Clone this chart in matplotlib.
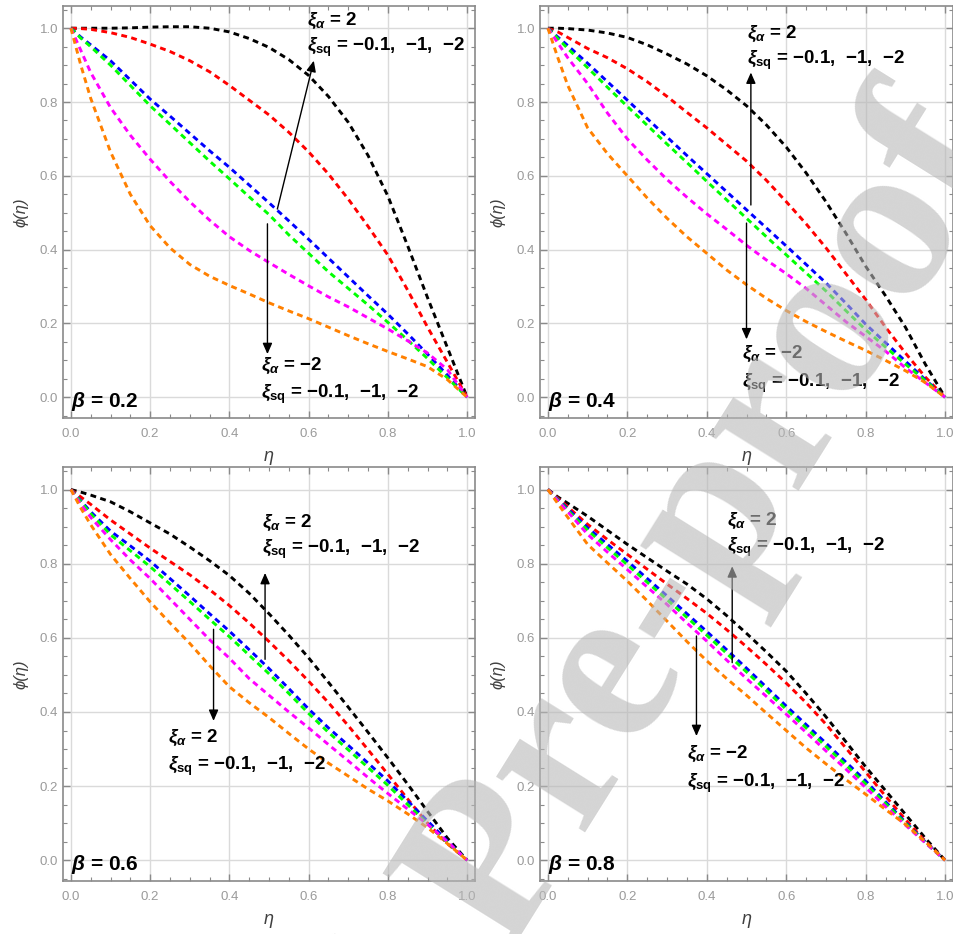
import matplotlib.pyplot as plt
from matplotlib.ticker import MultipleLocator, FormatStrFormatter

plt.rcParams['font.family'] = ['Liberation Sans', 'DejaVu Sans']
plt.rcParams['mathtext.fontset'] = 'custom'
plt.rcParams['mathtext.it'] = 'Liberation Sans:italic:bold'
plt.rcParams['mathtext.rm'] = 'Liberation Sans:bold'
plt.rcParams['mathtext.bf'] = 'Liberation Sans:bold'

# eta grid shared by all profiles
eta = [0, 0.025, 0.05, 0.1, 0.15, 0.2, 0.25, 0.3, 0.35, 0.4, 0.45, 0.5,
       0.55, 0.6, 0.65, 0.7, 0.75, 0.8, 0.85, 0.9, 0.95, 1.0]

# beta = 0.2
b2_black = [1.0, 1.0, 1.0, 1.0, 1.001, 1.003, 1.004, 1.004, 1.0, 0.99, 0.972, 0.948,
            0.915, 0.872, 0.815, 0.745, 0.655, 0.545, 0.41, 0.27, 0.135, 0.0]
b2_red = [1.0, 0.999, 0.997, 0.988, 0.975, 0.957, 0.937, 0.912, 0.882, 0.845, 0.805, 0.765,
          0.718, 0.665, 0.605, 0.537, 0.463, 0.385, 0.29, 0.19, 0.095, 0.0]
b2_blue = [1.0, 0.976, 0.955, 0.912, 0.86, 0.808, 0.762, 0.715, 0.668, 0.623, 0.575, 0.527,
           0.478, 0.428, 0.377, 0.326, 0.275, 0.225, 0.172, 0.117, 0.06, 0.0]
b2_green = [1.0, 0.973, 0.95, 0.9, 0.845, 0.79, 0.74, 0.69, 0.64, 0.592, 0.543, 0.495,
            0.44, 0.39, 0.34, 0.295, 0.25, 0.203, 0.155, 0.105, 0.053, 0.0]
b2_magenta = [1.0, 0.94, 0.88, 0.785, 0.71, 0.645, 0.585, 0.53, 0.48, 0.435, 0.398, 0.365,
              0.333, 0.302, 0.272, 0.245, 0.215, 0.185, 0.153, 0.12, 0.075, 0.0]
b2_orange = [1.0, 0.9, 0.81, 0.665, 0.55, 0.465, 0.405, 0.36, 0.328, 0.303, 0.28, 0.256,
             0.234, 0.213, 0.19, 0.167, 0.145, 0.124, 0.104, 0.083, 0.048, 0.0]

# beta = 0.4
b4_black = [1.0, 1.0, 0.999, 0.995, 0.987, 0.975, 0.955, 0.93, 0.903, 0.871, 0.833, 0.79,
            0.738, 0.678, 0.608, 0.53, 0.445, 0.355, 0.275, 0.19, 0.09, 0.0]
b4_red = [1.0, 0.99, 0.975, 0.945, 0.92, 0.89, 0.855, 0.815, 0.772, 0.73, 0.685, 0.64,
          0.588, 0.53, 0.47, 0.405, 0.335, 0.265, 0.19, 0.12, 0.055, 0.0]
b4_blue = [1.0, 0.976, 0.953, 0.905, 0.855, 0.805, 0.755, 0.705, 0.655, 0.606, 0.557, 0.508,
           0.459, 0.41, 0.36, 0.31, 0.255, 0.198, 0.148, 0.098, 0.048, 0.0]
b4_green = [1.0, 0.972, 0.945, 0.893, 0.84, 0.788, 0.737, 0.686, 0.636, 0.585, 0.535, 0.485,
            0.435, 0.386, 0.337, 0.288, 0.235, 0.183, 0.136, 0.09, 0.045, 0.0]
b4_magenta = [1.0, 0.96, 0.92, 0.85, 0.77, 0.7, 0.643, 0.59, 0.542, 0.497, 0.455, 0.412,
              0.372, 0.335, 0.295, 0.25, 0.205, 0.165, 0.125, 0.08, 0.04, 0.0]
b4_orange = [1.0, 0.92, 0.845, 0.73, 0.66, 0.6, 0.54, 0.485, 0.435, 0.39, 0.345, 0.305,
             0.268, 0.235, 0.205, 0.178, 0.152, 0.127, 0.1, 0.072, 0.04, 0.0]

# beta = 0.6
b6_black = [1.0, 0.993, 0.985, 0.967, 0.94, 0.91, 0.88, 0.845, 0.808, 0.768, 0.72, 0.665,
            0.607, 0.546, 0.48, 0.413, 0.345, 0.276, 0.205, 0.132, 0.06, 0.0]
b6_red = [1.0, 0.98, 0.96, 0.918, 0.88, 0.842, 0.806, 0.77, 0.73, 0.687, 0.64, 0.59,
          0.538, 0.483, 0.425, 0.363, 0.298, 0.232, 0.165, 0.1, 0.045, 0.0]
b6_blue = [1.0, 0.97, 0.94, 0.888, 0.848, 0.807, 0.76, 0.713, 0.665, 0.618, 0.568, 0.517,
           0.463, 0.408, 0.357, 0.31, 0.262, 0.214, 0.16, 0.106, 0.052, 0.0]
b6_green = [1.0, 0.967, 0.935, 0.878, 0.835, 0.792, 0.745, 0.698, 0.65, 0.603, 0.553, 0.503,
            0.45, 0.396, 0.345, 0.298, 0.25, 0.202, 0.15, 0.098, 0.048, 0.0]
b6_magenta = [1.0, 0.96, 0.925, 0.865, 0.81, 0.76, 0.705, 0.65, 0.595, 0.545, 0.49, 0.445,
              0.4, 0.357, 0.312, 0.268, 0.223, 0.18, 0.138, 0.097, 0.05, 0.0]
b6_orange = [1.0, 0.95, 0.905, 0.825, 0.76, 0.697, 0.64, 0.585, 0.525, 0.468, 0.425, 0.385,
             0.342, 0.3, 0.262, 0.227, 0.192, 0.16, 0.125, 0.088, 0.045, 0.0]

# beta = 0.8
b8_black = [1.0, 0.98, 0.963, 0.928, 0.89, 0.852, 0.816, 0.78, 0.745, 0.705, 0.66, 0.612,
            0.562, 0.51, 0.45, 0.387, 0.32, 0.252, 0.188, 0.124, 0.06, 0.0]
b8_red = [1.0, 0.977, 0.953, 0.906, 0.865, 0.825, 0.785, 0.745, 0.706, 0.666, 0.622, 0.576,
          0.528, 0.478, 0.425, 0.367, 0.303, 0.238, 0.173, 0.11, 0.052, 0.0]
b8_blue = [1.0, 0.974, 0.948, 0.897, 0.852, 0.807, 0.76, 0.713, 0.665, 0.617, 0.568, 0.518,
           0.467, 0.416, 0.366, 0.316, 0.265, 0.214, 0.158, 0.103, 0.05, 0.0]
b8_green = [1.0, 0.972, 0.944, 0.89, 0.843, 0.797, 0.75, 0.703, 0.655, 0.607, 0.558, 0.508,
            0.458, 0.407, 0.357, 0.307, 0.257, 0.206, 0.153, 0.1, 0.048, 0.0]
b8_magenta = [1.0, 0.97, 0.94, 0.879, 0.831, 0.784, 0.737, 0.69, 0.64, 0.591, 0.54, 0.49,
              0.442, 0.394, 0.345, 0.295, 0.246, 0.196, 0.145, 0.095, 0.047, 0.0]
b8_orange = [1.0, 0.962, 0.925, 0.852, 0.802, 0.753, 0.7, 0.645, 0.59, 0.538, 0.49, 0.445,
             0.397, 0.35, 0.303, 0.26, 0.218, 0.178, 0.137, 0.097, 0.05, 0.0]

colors = ['black', 'red', 'blue', '#00ff00', '#ff00ff', '#ff8000']
betas = ['0.2', '0.4', '0.6', '0.8']
curves = [
    [b2_black, b2_red, b2_blue, b2_green, b2_magenta, b2_orange],
    [b4_black, b4_red, b4_blue, b4_green, b4_magenta, b4_orange],
    [b6_black, b6_red, b6_blue, b6_green, b6_magenta, b6_orange],
    [b8_black, b8_red, b8_blue, b8_green, b8_magenta, b8_orange],
]

sq_text = r'$\xi_{\mathrm{sq}}$ = −0.1,  −1,  −2'
# (upper text pos, lower text pos, up arrow tail/head, down arrow tail/head, lower alpha label)
notes = [
    ((0.597, 1.021), (0.479, 0.086), ((0.521, 0.51), (0.613, 0.912)), ((0.496, 0.47), (0.496, 0.117)), '−2'),
    ((0.502, 0.984), (0.489, 0.117), ((0.511, 0.521), (0.511, 0.88)), ((0.50, 0.472), (0.50, 0.157)), '−2'),
    ((0.483, 0.910), (0.244, 0.331), ((0.490, 0.542), (0.490, 0.775)), ((0.36, 0.623), (0.36, 0.376)), '2'),
    ((0.451, 0.915), (0.350, 0.286), ((0.464, 0.533), (0.464, 0.793)), ((0.374, 0.605), (0.374, 0.335)), '−2'),
]

fig = plt.figure(figsize=(9.54, 9.34), dpi=100)
boxes = [[0.066, 0.5525, 0.432, 0.441], [0.566, 0.5525, 0.433, 0.441],
         [0.066, 0.0567, 0.432, 0.443], [0.566, 0.0567, 0.433, 0.443]]

frame = '#8a8a8a'
for k in range(4):
    ax = fig.add_axes(boxes[k])
    for c, y in zip(colors, curves[k]):
        ax.plot(eta, y, color=c, lw=2.1, ls=(0, (2.0, 1.5)))
    ax.set_xlim(-0.02, 1.02)
    ax.set_ylim(-0.056, 1.06)
    ax.xaxis.set_major_locator(MultipleLocator(0.2))
    ax.yaxis.set_major_locator(MultipleLocator(0.2))
    ax.xaxis.set_minor_locator(MultipleLocator(0.05))
    ax.yaxis.set_minor_locator(MultipleLocator(0.05))
    ax.xaxis.set_major_formatter(FormatStrFormatter('%.1f'))
    ax.yaxis.set_major_formatter(FormatStrFormatter('%.1f'))
    ax.tick_params(which='both', direction='in', top=True, right=True, color=frame,
                   labelcolor='#9a9a9a', labelsize=9.5)
    ax.tick_params(which='major', length=5, width=1)
    ax.tick_params(which='minor', length=3, width=0.8)
    ax.tick_params(axis='x', pad=7)
    ax.grid(which='major', color='#dadada', lw=1.0)
    ax.set_axisbelow(True)
    for s in ax.spines.values():
        s.set_color(frame)
        s.set_linewidth(1.2)
    ax.set_xlabel('η', fontstyle='italic', fontsize=13, color='#404040', labelpad=6)
    ax.set_ylabel('ϕ(η)', fontstyle='italic', fontsize=12, color='#404040', labelpad=8)

    up_pos, low_pos, up_arr, down_arr, low_alpha = notes[k]
    ax.text(up_pos[0], up_pos[1], r'$\xi_{\alpha}$ = 2', fontsize=13.5, fontweight='bold', va='center')
    ax.text(up_pos[0], up_pos[1] - 0.072, sq_text, fontsize=13.5, fontweight='bold', va='center')
    ax.text(low_pos[0], low_pos[1], r'$\xi_{\alpha}$ = ' + low_alpha, fontsize=13.5, fontweight='bold', va='center')
    ax.text(low_pos[0], low_pos[1] - 0.078, sq_text, fontsize=13.5, fontweight='bold', va='center')
    for tail, head in (up_arr, down_arr):
        ax.annotate('', xy=head, xytext=tail,
                    arrowprops=dict(arrowstyle='-|>,head_length=0.5,head_width=0.22',
                                    color='black', lw=1.0, mutation_scale=13,
                                    shrinkA=0, shrinkB=0))
    ax.text(0.0, -0.012, r'$\beta$ = ' + betas[k], fontsize=15, fontweight='bold', va='center')

# watermark over the panels
fig.text(1.058, 0.835, 'Journal Pre-proof', rotation=58.0, rotation_mode='anchor',
         ha='right', va='baseline', fontsize=165, family='Liberation Serif',
         fontweight='bold', color='0.72', alpha=0.6, zorder=10)

fig.savefig('out.png', dpi=100)
